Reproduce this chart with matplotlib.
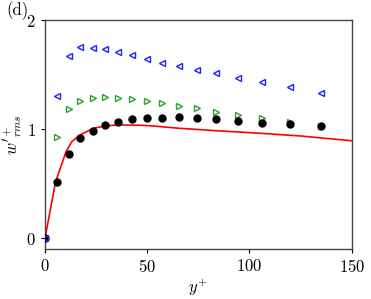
import matplotlib
matplotlib.use("Agg")
import matplotlib.pyplot as plt

plt.rcParams['font.family'] = 'serif'
plt.rcParams['font.serif'] = ['cmr10', 'DejaVu Serif']
plt.rcParams['mathtext.fontset'] = 'cm'
plt.rcParams['axes.formatter.use_mathtext'] = True

# Red line (reference profile)
line_x = [0, 5.2, 10.3, 13.1, 17.1, 23.6, 30.2, 36.7, 46.5, 51.4, 66.0, 85.6, 105.2, 124.8, 150.0]
line_y = [0.0, 0.518, 0.793, 0.885, 0.946, 1.007, 1.031, 1.038, 1.035, 1.031, 1.007, 0.983, 0.962, 0.937, 0.893]

# Sample x positions
pts_x = [0, 5.9, 11.6, 17.3, 23.3, 29.5, 35.9, 42.7, 49.8, 57.2, 65.4, 74.1, 83.8, 94.4, 106.3, 119.7, 135.2]

# Black dots
black_y = [0.0, 0.513, 0.772, 0.916, 0.985, 1.035, 1.065, 1.09, 1.099, 1.104, 1.108, 1.10, 1.093, 1.077, 1.059, 1.044, 1.026]
# Blue left triangles
blue_y = [0.0, 1.303, 1.669, 1.749, 1.743, 1.731, 1.703, 1.681, 1.639, 1.605, 1.577, 1.546, 1.511, 1.468, 1.431, 1.385, 1.333]
# Green right triangles
green_x = pts_x[1:]
green_y = [0.925, 1.181, 1.255, 1.285, 1.294, 1.285, 1.275, 1.26, 1.239, 1.212, 1.189, 1.159, 1.129, 1.099, 1.062, 1.028]

fig = plt.figure(figsize=(3.71, 2.99), dpi=100)
ax = fig.add_axes([0.1213, 0.167, 0.8267, 0.766])

ax.plot(line_x, line_y, color='red', lw=1.2, zorder=2)
ax.plot(green_x, green_y, linestyle='none', marker='>', markersize=4.5,
        markerfacecolor='none', markeredgecolor='#2ca02c', markeredgewidth=1.0, zorder=3)
ax.plot(pts_x, black_y, linestyle='none', marker='o', markersize=5,
        color='black', zorder=4)
ax.plot(pts_x, blue_y, linestyle='none', marker='<', markersize=4.5,
        markerfacecolor='none', markeredgecolor='#1f1fff', markeredgewidth=1.0, zorder=5)

ax.set_xlim(0, 150)
ax.set_ylim(-0.1, 2)
ax.set_xticks([0, 50, 100, 150])
ax.set_yticks([0, 1, 2])
ax.tick_params(direction='out', length=3, width=0.8, labelsize=12, top=False, right=False)
for s in ax.spines.values():
    s.set_color('#444444')
    s.set_linewidth(1.0)

ax.set_xlabel(r'$y^{+}$', fontsize=12, labelpad=1)
ax.set_ylabel(r"$w'^{+}_{rms}$", fontsize=12, labelpad=2)
fig.text(0.016, 0.963, '(d)', fontsize=12, va='center', ha='left')

fig.savefig('out.png', dpi=100)
